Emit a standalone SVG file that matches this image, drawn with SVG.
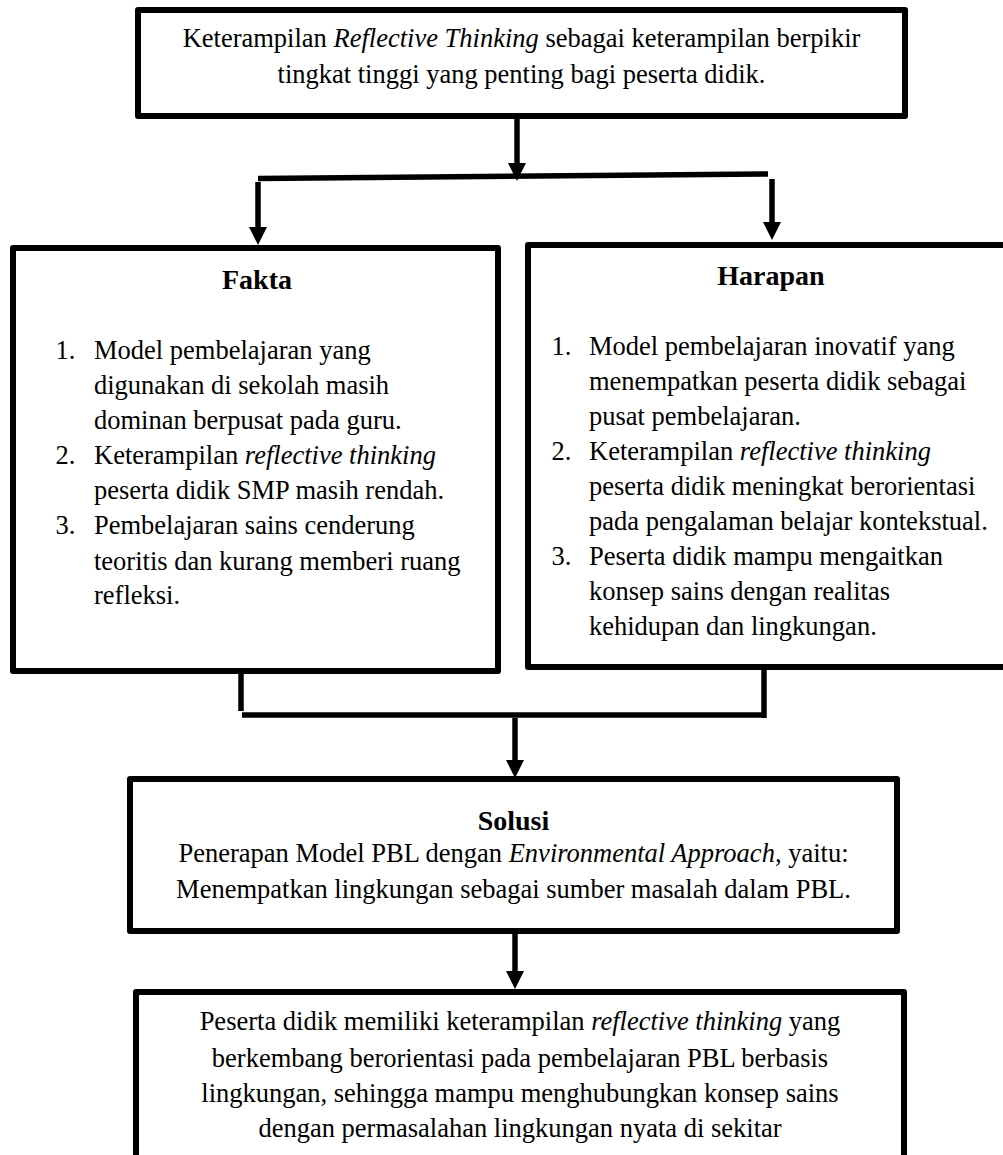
<svg xmlns="http://www.w3.org/2000/svg" width="1003" height="1155" viewBox="0 0 1003 1155">
<style>
.box{fill:#fff;stroke:#000;stroke-width:6;stroke-linejoin:round}
.con{fill:none;stroke:#000;stroke-width:5.5}
text{font-family:"Liberation Serif","Times New Roman",serif;font-size:26.5px;fill:#000}
.c{text-anchor:middle}
.h{font-weight:bold;font-size:28px}
.i{font-style:italic}
</style>
<defs>
<marker id="arr" markerUnits="userSpaceOnUse" markerWidth="19" markerHeight="18" viewBox="0 0 19 18" refX="0" refY="9" orient="auto">
<path d="M0,0 L18,9 L0,18 z" fill="#000"/>
</marker>
</defs>
<g id="connectors">
<line class="con" x1="517" y1="119" x2="517" y2="163" marker-end="url(#arr)"/>
<line class="con" x1="258" y1="178.5" x2="768" y2="174"/>
<line class="con" x1="258" y1="182" x2="258" y2="227" marker-end="url(#arr)"/>
<line class="con" x1="772" y1="179" x2="772" y2="222" marker-end="url(#arr)"/>
<line class="con" x1="241" y1="673" x2="241" y2="711"/>
<line class="con" x1="242" y1="715" x2="764" y2="715"/>
<line class="con" x1="764" y1="669" x2="764" y2="718"/>
<line class="con" x1="515" y1="718" x2="515" y2="760" marker-end="url(#arr)"/>
<line class="con" x1="515" y1="934" x2="515" y2="971" marker-end="url(#arr)"/>
</g>
<g id="node-top">
<rect class="box" x="138" y="10" width="767" height="106"/>
<text class="c" x="521.5" y="47">Keterampilan <tspan class="i">Reflective Thinking</tspan> sebagai keterampilan berpikir</text>
<text class="c" x="521.5" y="83">tingkat tinggi yang penting bagi peserta didik.</text>
</g>
<g id="node-fakta">
<rect class="box" x="13" y="248" width="485" height="423"/>
<text class="c h" x="257" y="289">Fakta</text>
<text x="55.5" y="358.5">1.</text>
<text x="94" y="358.5">Model pembelajaran yang</text>
<text x="94" y="393.5">digunakan di sekolah masih</text>
<text x="94" y="429">dominan berpusat pada guru.</text>
<text x="55.5" y="464">2.</text>
<text x="94" y="464">Keterampilan <tspan class="i">reflective thinking</tspan></text>
<text x="94" y="499">peserta didik SMP masih rendah.</text>
<text x="55.5" y="534">3.</text>
<text x="94" y="534">Pembelajaran sains cenderung</text>
<text x="94" y="569.5">teoritis dan kurang memberi ruang</text>
<text x="94" y="604">refleksi.</text>
</g>
<g id="node-harapan">
<rect class="box" x="528" y="245" width="478" height="422"/>
<text class="c h" x="771" y="285">Harapan</text>
<text x="551.5" y="355">1.</text>
<text x="589" y="355">Model pembelajaran inovatif yang</text>
<text x="589" y="390">menempatkan peserta didik sebagai</text>
<text x="589" y="425">pusat pembelajaran.</text>
<text x="551.5" y="460">2.</text>
<text x="589" y="460">Keterampilan <tspan class="i">reflective thinking</tspan></text>
<text x="589" y="495">peserta didik meningkat berorientasi</text>
<text x="589" y="530">pada pengalaman belajar kontekstual.</text>
<text x="551.5" y="565">3.</text>
<text x="589" y="565">Peserta didik mampu mengaitkan</text>
<text x="589" y="600">konsep sains dengan realitas</text>
<text x="589" y="635">kehidupan dan lingkungan.</text>
</g>
<g id="node-solusi">
<rect class="box" x="130" y="779" width="767" height="152"/>
<text class="c h" x="513.5" y="830">Solusi</text>
<text class="c" x="513.5" y="862">Penerapan Model PBL dengan <tspan class="i">Environmental Approach</tspan>, yaitu:</text>
<text class="c" x="513.5" y="898">Menempatkan lingkungan sebagai sumber masalah dalam PBL.</text>
</g>
<g id="node-hasil">
<rect class="box" x="136" y="992" width="768" height="200"/>
<text class="c" x="520" y="1030">Peserta didik memiliki keterampilan <tspan class="i">reflective thinking</tspan> yang</text>
<text class="c" x="520" y="1066.5">berkembang berorientasi pada pembelajaran PBL berbasis</text>
<text class="c" x="520" y="1101.5">lingkungan, sehingga mampu menghubungkan konsep sains</text>
<text class="c" x="520" y="1137">dengan permasalahan lingkungan nyata di sekitar</text>
</g>
</svg>
